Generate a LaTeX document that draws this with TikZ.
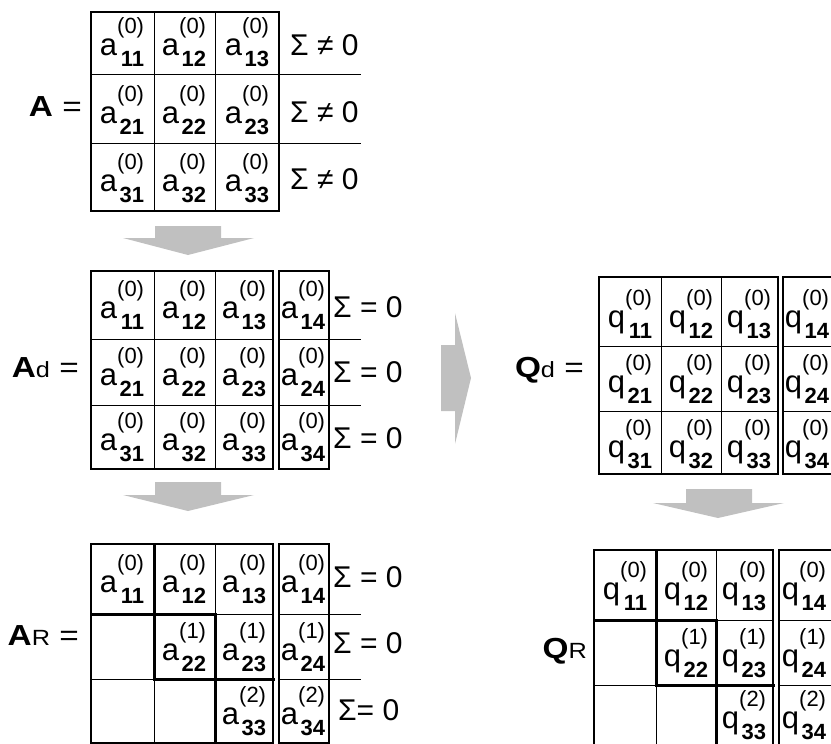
\documentclass[tikz,border=0pt]{standalone}
\usepackage{fontspec}
\setmainfont{Liberation Sans}
\usepackage{graphicx}

\definecolor{arrowgray}{RGB}{192,192,192}

\newcommand{\entryfont}{\fontsize{31}{34}\selectfont}
\newcommand{\idxfont}{\fontsize{22}{25}\selectfont}
\newcommand{\sumfont}{\fontsize{30}{34}\selectfont}
\newcommand{\labfont}{\fontsize{29}{32}\selectfont}

\newsavebox\supbox
\newsavebox\subbox
\newlength\idxwd
% letter, iteration, index
\newcommand{\elem}[3]{#1%
  \sbox\supbox{\idxfont(#2)}%
  \sbox\subbox{\idxfont\bfseries #3}%
  \setlength\idxwd{\wd\supbox}%
  \ifdim\wd\subbox>\idxwd\setlength\idxwd{\wd\subbox}\fi
  \rlap{\hbox to\idxwd{\hss\raisebox{22pt}{\usebox\supbox}}}%
  \hbox to\idxwd{\hss\raisebox{-11pt}{\usebox\subbox}}}

\tikzset{
  mxentry/.style={inner sep=0pt, anchor=base, font=\entryfont},
  mxsum/.style={inner sep=0pt, anchor=base west, font=\sumfont},
  mxlabel/.style={inner sep=0pt, anchor=base east, font=\labfont},
  mxgrid/.style={line width=.9pt},
  mxframe/.style={line width=1.6pt},
  mxcol/.style={line width=1.2pt},
  mxpivot/.style={line width=3pt},
  mxarrow/.style={fill=arrowgray}
}

\begin{document}
\begin{tikzpicture}[x=1pt, y=-1pt]
\useasboundingbox (0,0) rectangle (831,744);
\clip (0,0) rectangle (831,744);

% arrows
\fill[mxarrow] (155,226) -- (221,226) -- (221,238) -- (254,238) -- (188,255) -- (123,238) -- (155,238) -- cycle;
\fill[mxarrow] (155,482) -- (221,482) -- (221,495) -- (254,495) -- (188,511) -- (123,495) -- (155,495) -- cycle;
\fill[mxarrow] (441,345) -- (455,345) -- (455,313) -- (471,378) -- (455,444) -- (455,411) -- (441,411) -- cycle;
\fill[mxarrow] (686,489) -- (752,489) -- (752,503) -- (784,503) -- (718,518) -- (653,503) -- (686,503) -- cycle;

% A
\draw[mxgrid] (154,12) -- (154,211) (215,12) -- (215,211) (91,74) -- (361,74) (91,143) -- (361,143);
\draw[mxframe] (91,12) rectangle (279,211);
\node[mxlabel] (labA) at (82,116) {\scalebox{1.15}[1]{\textbf{A} =}};
\node[mxentry] (a11) at (122,55) {\elem{a}{0}{11}};
\node[mxentry] (a12) at (184,55) {\elem{a}{0}{12}};
\node[mxentry] (a13) at (247,55) {\elem{a}{0}{13}};
\node[mxentry] (a21) at (122,123) {\elem{a}{0}{21}};
\node[mxentry] (a22) at (184,123) {\elem{a}{0}{22}};
\node[mxentry] (a23) at (247,123) {\elem{a}{0}{23}};
\node[mxentry] (a31) at (122,191) {\elem{a}{0}{31}};
\node[mxentry] (a32) at (184,191) {\elem{a}{0}{32}};
\node[mxentry] (a33) at (247,191) {\elem{a}{0}{33}};
\node[mxsum] (s1) at (290,55) {Σ ≠ 0};
\node[mxsum] (s2) at (290,122) {Σ ≠ 0};
\node[mxsum] (s3) at (290,189) {Σ ≠ 0};

% A_d
\draw[mxgrid] (154,271) -- (154,469) (215,271) -- (215,469) (91,339) -- (273,339) (91,405) -- (273,405);
\draw[mxgrid] (279,339) -- (361,339) (279,405) -- (361,405);
\draw[mxframe] (91,271) rectangle (273,469);
\draw[mxcol] (279,271) rectangle (329,469);
\node[mxlabel] (labAd) at (79,377) {\scalebox{1.15}[1]{\textbf{A}{\idxfont d} =}};
\node[mxentry] (ad11) at (122,318) {\elem{a}{0}{11}};
\node[mxentry] (ad12) at (184,318) {\elem{a}{0}{12}};
\node[mxentry] (ad13) at (244,318) {\elem{a}{0}{13}};
\node[mxentry] (ad14) at (303,318) {\elem{a}{0}{14}};
\node[mxentry] (ad21) at (122,385) {\elem{a}{0}{21}};
\node[mxentry] (ad22) at (184,385) {\elem{a}{0}{22}};
\node[mxentry] (ad23) at (244,385) {\elem{a}{0}{23}};
\node[mxentry] (ad24) at (303,385) {\elem{a}{0}{24}};
\node[mxentry] (ad31) at (122,450) {\elem{a}{0}{31}};
\node[mxentry] (ad32) at (184,450) {\elem{a}{0}{32}};
\node[mxentry] (ad33) at (244,450) {\elem{a}{0}{33}};
\node[mxentry] (ad34) at (303,450) {\elem{a}{0}{34}};
\node[mxsum] (sd1) at (333,317) {Σ = 0};
\node[mxsum] (sd2) at (333,382) {Σ = 0};
\node[mxsum] (sd3) at (333,448) {Σ = 0};

% A_R
\draw[mxgrid] (154,544) -- (154,743) (215,544) -- (215,743) (91,614) -- (273,614) (91,679) -- (273,679);
\draw[mxgrid] (279,614) -- (361,614) (279,679) -- (361,679);
\draw[mxframe] (91,544) rectangle (273,743);
\draw[mxcol] (279,544) rectangle (329,743);
\draw[mxpivot] (154,544) -- (154,679) -- (275,679) (91,614) -- (215,614) -- (215,743);
\node[mxlabel] (labAR) at (79,645) {\scalebox{1.15}[1]{\textbf{A}{\idxfont R} =}};
\node[mxentry] (ar11) at (122,592) {\elem{a}{0}{11}};
\node[mxentry] (ar12) at (184,592) {\elem{a}{0}{12}};
\node[mxentry] (ar13) at (244,592) {\elem{a}{0}{13}};
\node[mxentry] (ar14) at (303,592) {\elem{a}{0}{14}};
\node[mxentry] (ar22) at (184,660) {\elem{a}{1}{22}};
\node[mxentry] (ar23) at (244,660) {\elem{a}{1}{23}};
\node[mxentry] (ar24) at (303,660) {\elem{a}{1}{24}};
\node[mxentry] (ar33) at (244,724) {\elem{a}{2}{33}};
\node[mxentry] (ar34) at (303,724) {\elem{a}{2}{34}};
\node[mxsum] (sr1) at (333,587) {Σ = 0};
\node[mxsum] (sr2) at (333,653) {Σ = 0};
\node[mxsum] (sr3) at (338,720) {Σ= 0};

% Q_d
\draw[mxgrid] (661,277) -- (661,474) (721,277) -- (721,474) (599,346) -- (778,346) (599,411) -- (778,411);
\draw[mxgrid] (783,346) -- (834,346) (783,411) -- (834,411);
\draw[mxframe] (599,277) rectangle (778,474);
\draw[mxcol] (783,277) rectangle (834,474);
\node[mxlabel] (labQd) at (584,377) {\scalebox{1.15}[1]{\textbf{Q}{\idxfont d} =}};
\node[mxentry] (qd11) at (630,327) {\elem{q}{0}{11}};
\node[mxentry] (qd12) at (691,327) {\elem{q}{0}{12}};
\node[mxentry] (qd13) at (749,327) {\elem{q}{0}{13}};
\node[mxentry] (qd14) at (807,327) {\elem{q}{0}{14}};
\node[mxentry] (qd21) at (630,392) {\elem{q}{0}{21}};
\node[mxentry] (qd22) at (691,392) {\elem{q}{0}{22}};
\node[mxentry] (qd23) at (749,392) {\elem{q}{0}{23}};
\node[mxentry] (qd24) at (807,392) {\elem{q}{0}{24}};
\node[mxentry] (qd31) at (630,457) {\elem{q}{0}{31}};
\node[mxentry] (qd32) at (691,457) {\elem{q}{0}{32}};
\node[mxentry] (qd33) at (749,457) {\elem{q}{0}{33}};
\node[mxentry] (qd34) at (807,457) {\elem{q}{0}{34}};

% Q_R
\draw[mxgrid] (656,550) -- (656,750) (716,550) -- (716,750) (594,620) -- (773,620) (594,685) -- (773,685);
\draw[mxgrid] (779,620) -- (834,620) (779,685) -- (834,685);
\draw[mxframe] (594,550) rectangle (773,750);
\draw[mxcol] (779,550) rectangle (834,750);
\draw[mxpivot] (656,550) -- (656,685) -- (775,685) (594,620) -- (716,620) -- (716,750);
\node[mxlabel] (labQR) at (587,658) {\scalebox{1.15}[1]{\textbf{Q}{\idxfont R}}};
\node[mxentry] (qr11) at (625,599) {\elem{q}{0}{11}};
\node[mxentry] (qr12) at (686,599) {\elem{q}{0}{12}};
\node[mxentry] (qr13) at (744,599) {\elem{q}{0}{13}};
\node[mxentry] (qr14) at (804,599) {\elem{q}{0}{14}};
\node[mxentry] (qr22) at (686,666) {\elem{q}{1}{22}};
\node[mxentry] (qr23) at (744,666) {\elem{q}{1}{23}};
\node[mxentry] (qr24) at (804,666) {\elem{q}{1}{24}};
\node[mxentry] (qr33) at (744,728) {\elem{q}{2}{33}};
\node[mxentry] (qr34) at (804,728) {\elem{q}{2}{34}};
\end{tikzpicture}
\end{document}
